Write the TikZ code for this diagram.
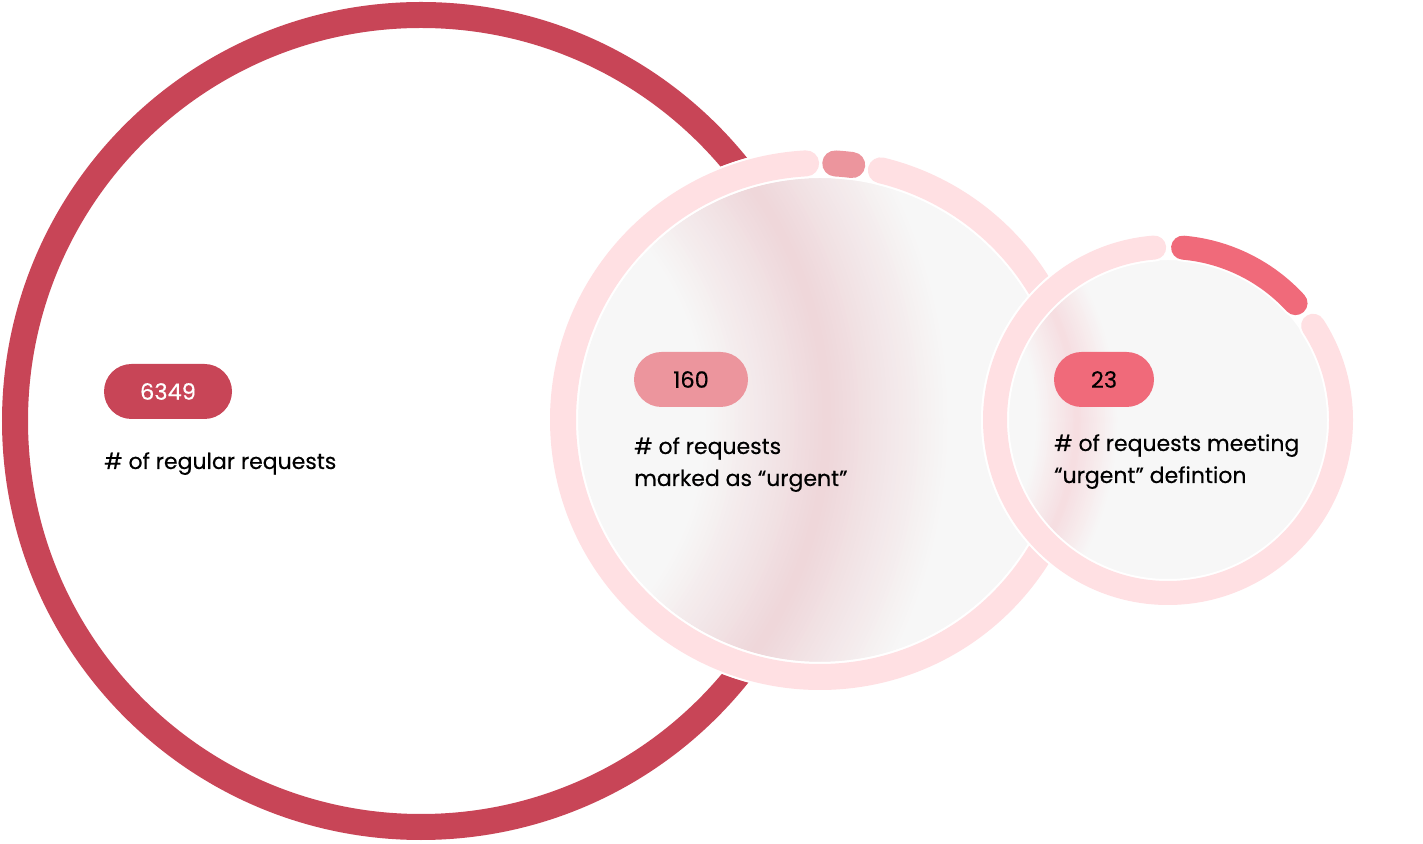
\documentclass[tikz,border=0pt]{standalone}
\usepackage{fontspec}
\setmainfont{Poppins}
\newfontfamily\medfont{Poppins}[FakeBold=0.35]
\definecolor{bigred}{HTML}{C84557}
\definecolor{lightring}{HTML}{FFE0E3}
\definecolor{midpink}{HTML}{EC959D}
\definecolor{hotpink}{HTML}{F06A7A}
\definecolor{glass}{HTML}{F7F7F7}
\definecolor{blurpink}{HTML}{F5B9C1}
\tikzset{
  pill/.style={rounded corners=27.5pt, minimum height=55pt, inner sep=0pt, font=\medfont\fontsize{22.5}{26}\selectfont},
  lbl/.style={anchor=base west, inner sep=0pt, font=\medfont\fontsize{22}{26}\selectfont, text=black},
  seg/.style={line width=#1, line cap=round},
  segedge/.style={line width=#1, line cap=round, draw=white},
}
\begin{document}
\begin{tikzpicture}[x=1pt,y=1pt]
\useasboundingbox (0,0) rectangle (1423,843);
% big ring
\coordinate (cb) at (421,422);
\draw[bigred, line width=26pt] (cb) circle[radius=406pt];
% middle circle
\coordinate (cm) at (820,423);
\fill[white] (cm) circle[radius=272pt];
\fill[glass] (cm) circle[radius=243pt];
\begin{scope}
  \clip (cm) circle[radius=243pt];
  \foreach \i in {1,...,30} {
    \pgfmathsetmacro\w{248-8*\i}
    \pgfmathsetmacro\p{0.6*\i}
    \draw[color=bigred!\p!glass, line width=\w pt] (cb) circle[radius=406pt];
  }
\end{scope}
\draw[white, line width=2pt] (cm) circle[radius=243pt];
\draw[segedge=30pt] (cm) ++(93.1:257pt) arc[start angle=93.1, end angle=436.3, radius=257pt];
\draw[segedge=30pt] (cm) ++(82.8:257pt) arc[start angle=82.8, end angle=86.6, radius=257pt];
\draw[seg=26pt, lightring] (cm) ++(93.1:257pt) arc[start angle=93.1, end angle=436.3, radius=257pt];
\draw[seg=26pt, midpink] (cm) ++(82.8:257pt) arc[start angle=82.8, end angle=86.6, radius=257pt];
% right circle
\coordinate (cr) at (1168,423);
\fill[white] (cr) circle[radius=187pt];
\fill[glass] (cr) circle[radius=161pt];
\begin{scope}
  \clip (cr) circle[radius=161pt];
  \foreach \i in {1,...,20} {
    \pgfmathsetmacro\w{84-4*\i}
    \pgfmathsetmacro\p{2*\i}
    \draw[color=blurpink!\p!glass, line width=\w pt] (cm) circle[radius=257pt];
  }
\end{scope}
\draw[white, line width=2pt] (cr) circle[radius=161pt];
\draw[segedge=28pt] (cr) ++(94.6:173pt) arc[start angle=94.6, end angle=393, radius=173pt];
\draw[segedge=28pt] (cr) ++(42.5:173pt) arc[start angle=42.5, end angle=85, radius=173pt];
\draw[seg=24pt, lightring] (cr) ++(94.6:173pt) arc[start angle=94.6, end angle=393, radius=173pt];
\draw[seg=24pt, hotpink] (cr) ++(42.5:173pt) arc[start angle=42.5, end angle=85, radius=173pt];
% pills
\node[pill, fill=bigred, text=white, minimum width=128pt] (p1) at (168,451.5) {6349};
\node[pill, fill=midpink, text=black, minimum width=114pt] (p2) at (691,463.5) {160};
\node[pill, fill=hotpink, text=black, minimum width=100pt] (p3) at (1104,463.5) {23};
% labels
\node[lbl] (l1) at (104,374) {\# of regular requests};
\node[lbl] (l2a) at (634,389) {\# of requests};
\node[lbl] (l2b) at (634,357) {marked as “urgent”};
\node[lbl] (l3a) at (1054,392) {\# of requests meeting};
\node[lbl] (l3b) at (1054,360) {“urgent” defintion};
\end{tikzpicture}
\end{document}
